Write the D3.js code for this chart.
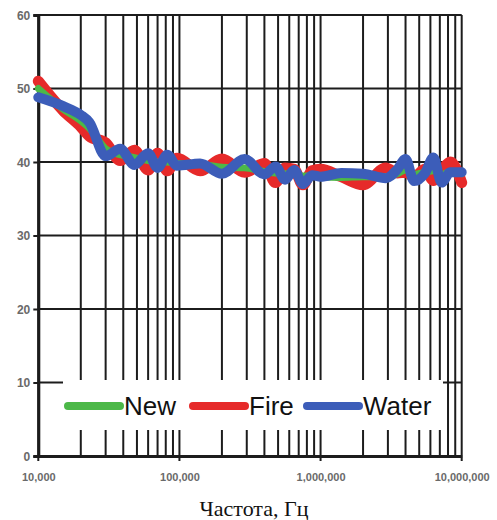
<!DOCTYPE html>
<html>
<head>
<meta charset="utf-8">
<script src="https://cdn.jsdelivr.net/npm/d3@7"></script>
<style>
    body { margin: 0; background: #fff; }
    svg { display: block; }
</style>
</head>
<body>
<div id="chart"></div>
<script>
const freqs = [10000, 15000, 20000, 23000, 30000, 38000, 48000, 60000, 70000, 82000, 96000,
    140000, 200000, 290000, 400000, 480000, 560000, 650000, 750000, 870000, 1000000,
    1400000, 2000000, 2900000, 3500000, 4000000, 4600000, 5500000, 6300000, 7200000, 8300000, 10000000]

const newValues = [50.0, 47.2, 45.6, 44.6, 41.8, 41.0, 40.6, 40.2, 40.0, 40.0, 39.8,
    39.7, 39.3, 39.2, 38.7, 38.5, 38.4, 38.3, 38.1, 38.1, 38.0,
    37.9, 38.0, 38.0, 38.4, 38.9, 38.3, 38.6, 38.8, 38.3, 38.7, 38.4]

const fireValues = [51.0, 47.0, 44.8, 43.5, 42.6, 40.2, 41.6, 38.9, 41.2, 38.8, 40.5,
    38.8, 40.4, 38.6, 39.8, 37.2, 39.2, 39.0, 36.9, 38.8, 39.0,
    38.0, 36.9, 39.2, 38.5, 38.6, 38.0, 39.0, 37.5, 38.8, 40.0, 37.2]

const waterValues = [48.8, 47.6, 46.4, 45.4, 40.8, 41.8, 39.6, 41.2, 39.2, 41.0, 39.5,
    39.8, 38.4, 40.4, 38.3, 39.4, 37.6, 38.9, 37.0, 38.2, 38.0,
    38.5, 38.4, 37.8, 39.0, 40.4, 37.4, 38.5, 40.6, 37.2, 38.6, 38.6]

const seriesNames = ["New", "Fire", "Water"]
const seriesColors = {New: "#4cb848", Fire: "#e62a2a", Water: "#3c5db9"}

const yTicks = [0, 10, 20, 30, 40, 50, 60]
const xLabelTicks = [1e4, 1e5, 1e6, 1e7]
const xTitle = "Частота, Гц"

const width = 497
const height = 520
const plotLeft = 38.3, plotRight = 461.7, plotTop = 15, plotBottom = 456

const svg = d3.select("#chart").append("svg")
    .attr("width", width)
    .attr("height", height)

const x = d3.scaleLog().domain([1e4, 1e7]).range([plotLeft, plotRight])
const y = d3.scaleLinear().domain([0, 60]).range([plotBottom, plotTop])

// vertical grid, one line per log tick
const grid = svg.append("g").attr("stroke", "#1c1c1c").attr("stroke-width", 2)
grid.selectAll(".vline")
    .data(x.ticks())
    .enter()
    .append("line")
    .attr("x1", d => x(d))
    .attr("x2", d => x(d))
    .attr("y1", y(60))
    .attr("y2", d => xLabelTicks.includes(d) ? y(0) + 5 : y(0))

grid.selectAll(".hline")
    .data(yTicks)
    .enter()
    .append("line")
    .attr("x1", plotLeft)
    .attr("x2", plotRight)
    .attr("y1", d => y(d))
    .attr("y2", d => y(d))

// axes: y tick marks + labels, x labels
const yAxis = svg.append("g")
    .attr("transform", "translate(" + plotLeft + ",0)")
    .call(d3.axisLeft(y).tickValues(yTicks).tickSize(5).tickPadding(3))
yAxis.select(".domain").attr("stroke", "#1c1c1c").attr("stroke-width", 3)
yAxis.selectAll(".tick line").attr("stroke", "#1c1c1c").attr("stroke-width", 2)
yAxis.selectAll("text")
    .attr("font-family", "Liberation Sans, Arial, sans-serif")
    .attr("font-size", 12)
    .attr("font-weight", "bold")
    .attr("fill", "#6a6a6a")
    .attr("dy", "0.36em")

const xAxis = svg.append("g")
    .attr("transform", "translate(0," + plotBottom + ")")
    .call(d3.axisBottom(x).tickValues(xLabelTicks).tickFormat(d3.format(",")).tickSize(0).tickPadding(17))
xAxis.select(".domain").attr("stroke", "#1c1c1c").attr("stroke-width", 3)
xAxis.selectAll("text")
    .attr("font-family", "Liberation Sans, Arial, sans-serif")
    .attr("font-size", 11)
    .attr("font-weight", "bold")
    .attr("fill", "#6a6a6a")

svg.append("text")
    .attr("x", 254)
    .attr("y", 516)
    .attr("text-anchor", "middle")
    .attr("font-family", "Liberation Serif, Times New Roman, serif")
    .attr("font-size", 22)
    .attr("fill", "#111")
    .text(xTitle)

// legend box sits over the grid
const legend = svg.append("g")
legend.append("rect")
    .attr("x", 63)
    .attr("y", 380)
    .attr("width", 380)
    .attr("height", 50)
    .attr("fill", "#fff")

const legendX = [68, 193, 307]
seriesNames.forEach((name, i) => {
    legend.append("line")
        .attr("x1", legendX[i])
        .attr("x2", legendX[i] + 52)
        .attr("y1", 406)
        .attr("y2", 406)
        .attr("stroke", seriesColors[name])
        .attr("stroke-width", 8)
        .attr("stroke-linecap", "round")
    legend.append("text")
        .attr("x", legendX[i] + 56)
        .attr("y", 415)
        .attr("font-family", "Liberation Sans, Arial, sans-serif")
        .attr("font-size", 26)
        .attr("fill", "#111")
        .text(name)
})

// data lines
const series = [
    {name: "Fire", values: fireValues, w: 11},
    {name: "New", values: newValues, w: 7},
    {name: "Water", values: waterValues, w: 10},
]
const lineGen = d3.line()
    .x((d, i) => x(freqs[i]))
    .y(d => y(d))
    .curve(d3.curveMonotoneX)

svg.append("g")
    .selectAll("path")
    .data(series)
    .enter()
    .append("path")
    .attr("d", d => lineGen(d.values))
    .attr("fill", "none")
    .attr("stroke", d => seriesColors[d.name])
    .attr("stroke-width", d => d.w)
    .attr("stroke-linejoin", "round")
    .attr("stroke-linecap", "round")
</script>
</body>
</html>
